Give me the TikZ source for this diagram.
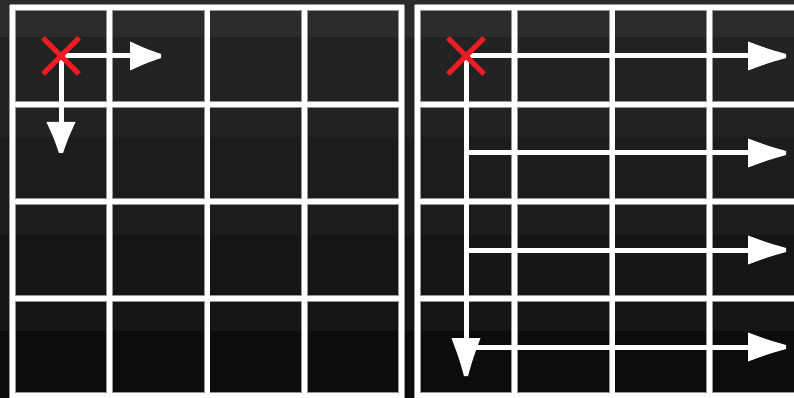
\documentclass[tikz,border=0pt]{standalone}
\usepackage{tikz}
\usetikzlibrary{shapes.misc}
\definecolor{BgBandA}{RGB}{43, 43, 43}
\definecolor{BgBandB}{RGB}{34, 34, 34}
\definecolor{BgBandC}{RGB}{28, 28, 28}
\definecolor{BgBandD}{RGB}{21, 21, 21}
\definecolor{BgBandE}{RGB}{12, 12, 12}
\definecolor{MarkRed}{RGB}{237, 28, 36}
\definecolor{EdgeGray}{RGB}{150, 150, 150}
\newcommand{\drawcells}[2]{%
  \foreach \i in {0,...,4} {
    \draw[#2] ({#1+97.25*\i},5) -- ({#1+97.25*\i},398);
    \draw[#2] ({#1-2.5},{7.5+97*\i}) -- ({#1+391.5},{7.5+97*\i});
  }}
\tikzset{
  gridhalo/.style={line width=6.6pt, draw=EdgeGray},
  gridline/.style={line width=5pt, draw=white},
  arrowline/.style={line width=5pt, draw=white, shorten >=18pt},
  startmark/.style={cross out, draw=MarkRed, line width=5pt, minimum size=31pt, inner sep=0pt},
  pics/tiphead/.style={code={
    \fill[white] (0,-2) .. controls ({-0.45*#1},-6.8) .. ({-#1},-14.5)
      -- ({-#1},14.5) .. controls ({-0.45*#1},6.8) .. (0,2) -- cycle;
  }}
}

\begin{document}
\begin{tikzpicture}[x=1pt, y=-1pt]
  \useasboundingbox (0,0) rectangle (794,398);
  \clip (0,0) rectangle (794,398);

  % Nen
  \foreach \ya/\yb/\band in {0/37/BgBandA, 37/137/BgBandB, 137/235/BgBandC, 235/331/BgBandD, 331/398/BgBandE}
    \fill[fill=\band] (0,\ya) rectangle (794,\yb);

  % Hai luoi 4x4
  \drawcells{12.5}{gridhalo}
  \drawcells{417.5}{gridhalo}
  \drawcells{12.5}{gridline}
  \drawcells{417.5}{gridline}

  % O bat dau va dau mui ten
  \coordinate (cellL) at (61,56);
  \coordinate (tipLR) at (161,56);
  \coordinate (tipLD) at (61,153);
  \coordinate (cellR) at (466,56);
  \coordinate (tipRD) at (466,376);
  \foreach \ry [count=\k] in {56,153,250,347} {
    \coordinate (rowR\k) at (466,\ry);
    \coordinate (tipR\k) at (786,\ry);
  }

  % Luoi trai: hai o ke
  \draw[arrowline] (cellL) -- (tipLR);
  \pic at (tipLR) {tiphead=31};
  \draw[arrowline] (cellL) -- (tipLD);
  \pic[rotate=-90] at (tipLD) {tiphead=31};

  % Luoi phai: ca hang va ca cot
  \draw[arrowline] (cellR) -- (tipRD);
  \pic[rotate=-90] at (tipRD) {tiphead=38};
  \foreach \k in {1,...,4} {
    \draw[arrowline] (rowR\k) -- (tipR\k);
    \pic at (tipR\k) {tiphead=38};
  }

  \node[startmark] (startL) at (cellL) {};
  \node[startmark] (startR) at (cellR) {};
\end{tikzpicture}
\end{document}
